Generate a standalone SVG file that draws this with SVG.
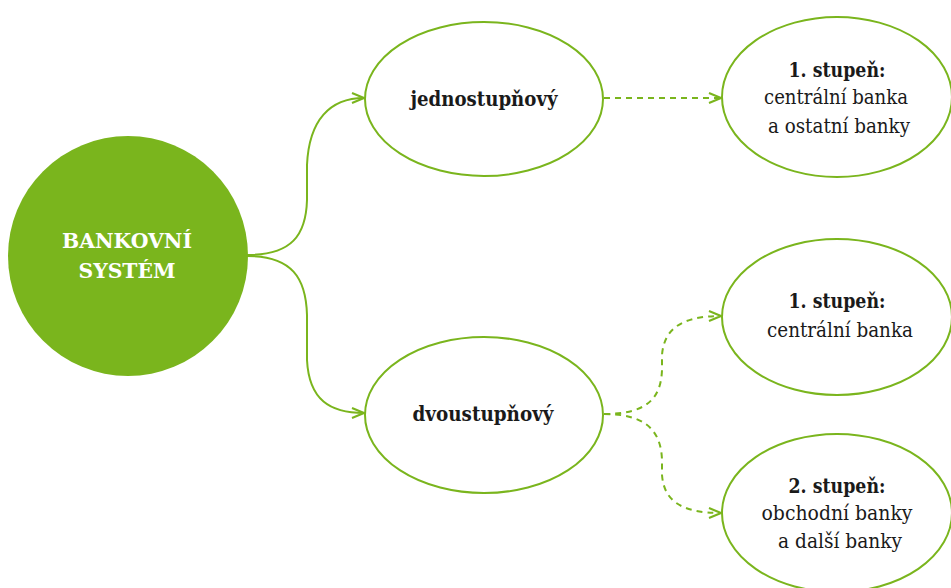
<svg xmlns="http://www.w3.org/2000/svg" width="951" height="588" viewBox="0 0 951 588">
<style>
.node{fill:#fff;stroke:#7ab51d;stroke-width:2}
.t{font-family:'DejaVu Serif','Liberation Serif','Noto Serif',serif;font-size:21px;fill:#1a1a1a;text-anchor:middle}
.b{font-weight:bold}
.w{fill:#fff}
.c{fill:none;stroke:#7ab51d;stroke-width:2}
.d{stroke-dasharray:6 5}
</style>
<defs>
<marker id="arr" viewBox="0 0 14 12" refX="13" refY="6" markerWidth="14" markerHeight="12" markerUnits="userSpaceOnUse" orient="auto">
<path d="M1,1 L13,6 L1,11" fill="none" stroke="#7ab51d" stroke-width="2"/>
</marker>
</defs>
<rect width="951" height="588" fill="#fff"/>
<g id="connectors">
<path class="c" d="M247,255 C292,255 306,235 307,200 L307,165 C309,120 330,98 364,98" marker-end="url(#arr)"/>
<path class="c" d="M247,256 C292,256 306,278 307,315 L307,360 C309,400 330,413 364,413" marker-end="url(#arr)"/>
<path class="c d" d="M604,98 L721,98" marker-end="url(#arr)"/>
<path class="c d" d="M604,414 C645,414 661,400 662,370 L662,355 C664,330 680,316 721,316" marker-end="url(#arr)"/>
<path class="c d" d="M604,414 C645,414 661,430 662,460 L662,475 C664,500 680,513 721,513" marker-end="url(#arr)"/>
</g>
<g id="root">
<circle cx="128" cy="256" r="120" fill="#7ab51d"/>
<text class="t b w" x="127" y="248" textLength="130" lengthAdjust="spacingAndGlyphs">BANKOVNÍ</text>
<text class="t b w" x="127" y="278" textLength="97" lengthAdjust="spacingAndGlyphs">SYSTÉM</text>
</g>
<g id="jednostupnovy">
<ellipse class="node" cx="484" cy="99" rx="119" ry="77"/>
<text class="t b" x="484" y="106" textLength="147" lengthAdjust="spacingAndGlyphs">jednostupňový</text>
</g>
<g id="dvoustupnovy">
<ellipse class="node" cx="484" cy="415" rx="119" ry="78"/>
<text class="t b" x="483" y="421" textLength="141" lengthAdjust="spacingAndGlyphs">dvoustupňový</text>
</g>
<g id="jedno-stupen1">
<ellipse class="node" cx="837" cy="97" rx="115" ry="80"/>
<text class="t b" x="837" y="77" textLength="97" lengthAdjust="spacingAndGlyphs">1. stupeň:</text>
<text class="t" x="836" y="104" textLength="144" lengthAdjust="spacingAndGlyphs">centrální banka</text>
<text class="t" x="839" y="133" textLength="142" lengthAdjust="spacingAndGlyphs">a ostatní banky</text>
</g>
<g id="dvou-stupen1">
<ellipse class="node" cx="837" cy="317" rx="115" ry="78"/>
<text class="t b" x="837" y="308" textLength="97" lengthAdjust="spacingAndGlyphs">1. stupeň:</text>
<text class="t" x="840" y="337" textLength="146" lengthAdjust="spacingAndGlyphs">centrální banka</text>
</g>
<g id="dvou-stupen2">
<ellipse class="node" cx="837" cy="513" rx="115" ry="79"/>
<text class="t b" x="837" y="493" textLength="97" lengthAdjust="spacingAndGlyphs">2. stupeň:</text>
<text class="t" x="837" y="520" textLength="151" lengthAdjust="spacingAndGlyphs">obchodní banky</text>
<text class="t" x="840" y="548" textLength="124" lengthAdjust="spacingAndGlyphs">a další banky</text>
</g>
</svg>
